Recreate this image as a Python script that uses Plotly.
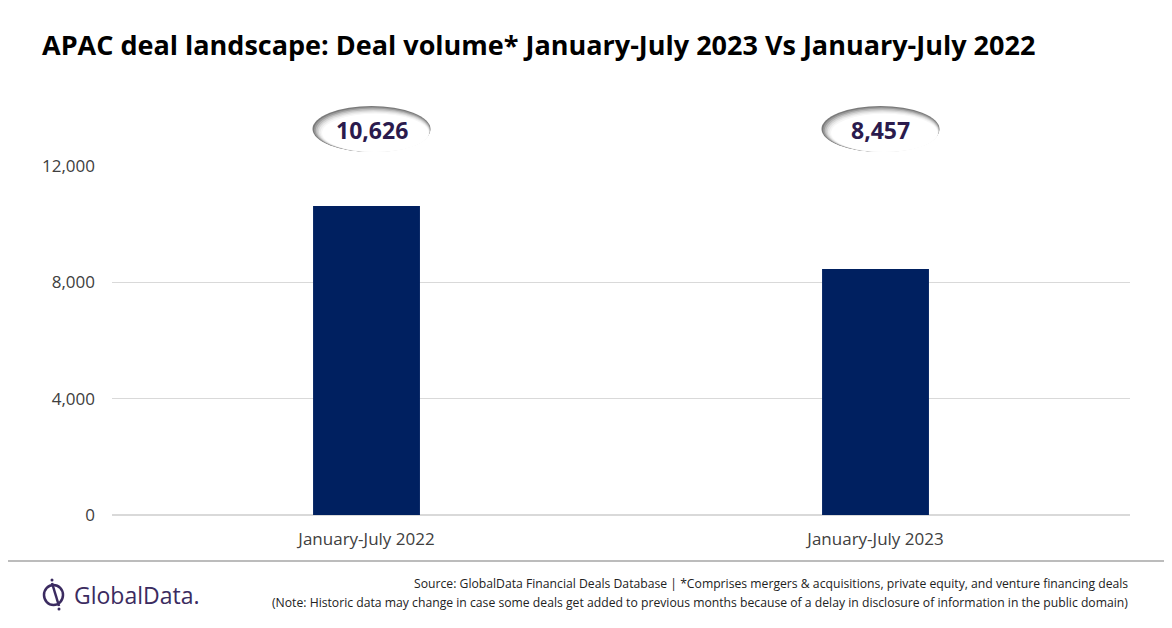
import plotly.graph_objects as go

# data
periods = ["January-July 2022", "January-July 2023"]
deal_volume = [10626, 8457]

W, H = 1172, 628
OFF = 8  # page body margin the browser adds round the plot div
L, R, T, B = 112, 1130, 166, 515  # plot area in window pixels
NAVY = "#002060"
PURPLE = "#2b1b4d"
LOGO = "#3b2b60"
FONT = "Open Sans, sans-serif"
FW, FH = W - OFF, H - OFF
CAT = (R - L) / len(periods)  # pixels per category slot


def px(x):
    return (x - L) / (R - L)


def py(y):
    return (B - y) / (B - T)


fig = go.Figure(go.Bar(
    x=periods, y=deal_volume, marker=dict(color=NAVY, line=dict(width=0)),
    hoverinfo="x+y", showlegend=False))

shapes = []
annotations = []
# shaded ellipse callouts above each bar (layers fade from grey rim to white)
shade = ["#7a7a7a", "#9c9c9c", "#bcbcbc", "#d6d6d6", "#eaeaea", "#f7f7f7",
         "#ffffff"]
for i, v in enumerate(deal_volume):
    cx, cy = i + 5 / CAT, py(129)
    hw, hh = 59 / CAT, 23 / (B - T)
    for k, col in enumerate(shade):
        shapes.append(dict(
            type="circle", xref="x", yref="paper",
            x0=cx - hw + 1.6 * k / CAT, x1=cx + hw - 0.3 * k / CAT,
            y0=cy - hh, y1=cy + hh - 1.3 * k / (B - T),
            fillcolor=col, line=dict(width=0), layer="above"))
    annotations.append(dict(
        x=cx, y=cy - 1 / (B - T), xref="x", yref="paper",
        text=f"<b>{v:,}</b>", showarrow=False, yanchor="middle",
        font=dict(size=23, color=PURPLE, family=FONT)))

# footer rule
shapes.append(dict(type="line", xref="paper", yref="paper",
                   x0=px(0), x1=px(W), y0=py(561), y1=py(561),
                   line=dict(color="#a6a6a6", width=1.5)))
# GlobalData logo mark
shapes.append(dict(type="circle", xref="paper", yref="paper",
                   x0=px(44), x1=px(63), y0=py(605), y1=py(585),
                   line=dict(color=LOGO, width=2.5)))
shapes.append(dict(type="line", xref="paper", yref="paper",
                   x0=px(52), x1=px(59), y0=py(583), y1=py(606),
                   line=dict(color=LOGO, width=2.5)))
for dx, dy in [(52, 580), (59, 609)]:
    shapes.append(dict(type="circle", xref="paper", yref="paper",
                       x0=px(dx - 1.5), x1=px(dx + 1.5),
                       y0=py(dy + 1.5), y1=py(dy - 1.5),
                       fillcolor=LOGO, line=dict(width=0)))

annotations += [
    dict(x=px(72), y=py(595), xref="paper", yref="paper",
         text="GlobalData.", showarrow=False, xanchor="left",
         yanchor="middle", font=dict(size=23, color=LOGO, family=FONT)),
    dict(x=1.0, y=py(583), xref="paper", yref="paper", xanchor="right",
         yanchor="middle",
         text="Source: GlobalData Financial Deals Database | *Comprises "
              "mergers & acquisitions, private equity, and venture "
              "financing deals",
         showarrow=False, font=dict(size=12.2, color="#222222", family=FONT)),
    dict(x=1.0, y=py(602), xref="paper", yref="paper", xanchor="right",
         yanchor="middle",
         text="(Note: Historic data may change in case some deals get added "
              "to previous months because of a delay in disclosure of "
              "information in the public domain)",
         showarrow=False, font=dict(size=12.2, color="#222222", family=FONT)),
]

fig.update_layout(
    width=FW, height=FH, paper_bgcolor="white", plot_bgcolor="white",
    margin=dict(l=L - OFF, r=W - R, t=T - OFF, b=H - B, pad=0),
    font=dict(family=FONT, color="#404040"),
    title=dict(
        text="<b>APAC deal landscape: Deal volume* January-July 2023 Vs "
             "January-July 2022</b>",
        x=(42 - OFF) / FW, xanchor="left", xref="container",
        y=1 - (46 - OFF) / FH, yanchor="middle", yref="container",
        font=dict(size=27, color="#000000", family=FONT)),
    bargap=0.79,
    xaxis=dict(showgrid=False, showline=False, ticks="",
               ticklabelstandoff=12,
               tickfont=dict(size=17, color="#404040")),
    yaxis=dict(range=[0, 12000], tickvals=[0, 4000, 8000, 12000],
               tickformat=",", showgrid=True, gridcolor="#d9d9d9",
               zeroline=True, zerolinecolor="#d9d9d9", showline=False,
               ticks="", ticklabelstandoff=16,
               tickfont=dict(size=17, color="#404040")),
    shapes=shapes, annotations=annotations,
)

fig.write_html("out.html")
